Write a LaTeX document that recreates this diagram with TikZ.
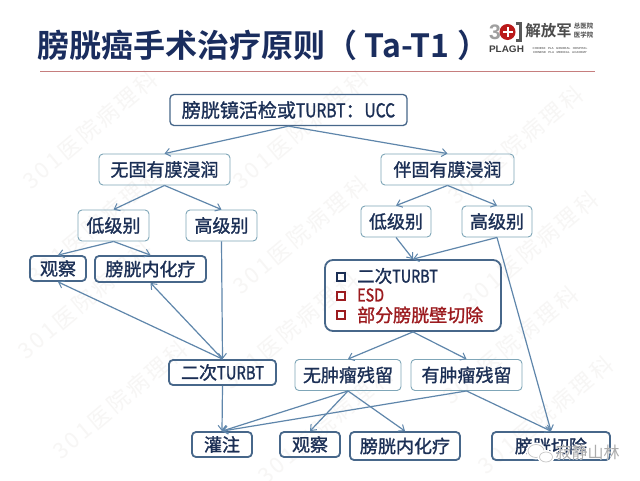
\documentclass[tikz,border=0pt]{standalone}
\usepackage{fontspec}
\usepackage{graphicx}
\usetikzlibrary{arrows.meta}
\setmainfont{Noto Sans CJK SC}[AutoFakeBold=1.3]
\newfontfamily\cjkb{Noto Sans CJK SC Bold}
\newfontfamily\wmfont[LetterSpace=14]{Noto Sans CJK SC}
\newfontfamily\latb{Liberation Sans Bold}
\definecolor{navy}{HTML}{1B2F55}
\definecolor{titlec}{HTML}{1A2D5E}
\definecolor{lnk}{HTML}{5F86AB}
\definecolor{lbord}{HTML}{7FA6B8}
\definecolor{dbord}{HTML}{47678A}
\definecolor{redt}{HTML}{9C1B1F}
\definecolor{wmc}{HTML}{F7F6F5}
\newcommand{\nr}[1]{\scalebox{0.82}[1]{#1}}
\tikzset{
  x=1pt,y=-1pt,
  bx/.style={rounded corners=4pt,inner sep=0pt,align=center,text=navy,font=\fontsize{18}{20}\selectfont\bfseries},
  lbox/.style={bx,draw=lbord,line width=0.9pt},
  dbox/.style={bx,draw=dbord,line width=1.8pt},
  lnkc/.style={draw=lnk,line width=1.2pt,-{Straight Barb[length=5pt,width=8pt,line width=1pt]}},
  wm/.style={text=wmc,rotate=40,font=\wmfont\fontsize{22}{24}\selectfont},
}
\begin{document}
\begin{tikzpicture}
\useasboundingbox (0,0) rectangle (640,480);
\fill[white] (0,0) rectangle (640,480);
% watermark
\foreach \wx/\wy in {85/300,120/400,90/130,95/225,300/130,300/235,290/330,325/425,515/145,530/250,510/345,545/415}{
  \node[wm] (w) at (\wx,\wy) {301医院病理科};
}
% title
\node[anchor=west,text=titlec,inner sep=0pt,font=\cjkb\fontsize{32}{34}\selectfont] (title) at (37,45) {膀胱癌手术治疗原则（ Ta-T1 ）};
\coordinate (la) at (40,71);
\coordinate (lb) at (595,71);
\draw[draw=black!10!red!45!gray!70,line width=1pt] (la) -- (lb);
% logo
\node[text=gray!75,font=\latb\fontsize{21}{21}\selectfont,inner sep=0pt] (l3) at (495,32) {3};
\fill[red!70!black!90] (507.5,32) circle (8);
\fill[white] (506.5,27) rectangle (508.5,37);
\fill[white] (502.5,31) rectangle (512.5,33);
\draw[gray!70!black,line width=3pt] (516,23.5) -- (520.5,23.5) -- (520.5,40.5) -- (516,40.5);
\node[text=black!70,font=\cjkb\fontsize{15.5}{16}\selectfont,inner sep=0pt] (l4) at (548.5,31) {解放军};
\node[text=black!70,font=\cjkb\fontsize{6.5}{7}\selectfont,inner sep=0pt] (l5) at (583.5,26) {总医院};
\node[text=black!70,font=\cjkb\fontsize{6.5}{7}\selectfont,inner sep=0pt] (l6) at (583.5,35) {医学院};
\node[text=black!75,font=\latb\fontsize{9.5}{10}\selectfont,inner sep=0pt] (l7) at (506.5,49) {\scalebox{1.05}[1]{PLAGH}};
\node[text=black!55,font=\latb\fontsize{2.9}{3}\selectfont,inner sep=0pt] (l8) at (560,48) {CHINESE\ \ \ PLA\ \ \ GENERAL\ \ \ HOSPITAL};
\node[text=black!55,font=\latb\fontsize{2.9}{3}\selectfont,inner sep=0pt] (l9) at (560,52.5) {CHINESE\ \ \ PLA\ \ \ MEDICAL\ \ \ ACADEMY};
% boxes
\node[dbox,line width=1.3pt,minimum width=237pt,minimum height=31pt,font=\fontsize{19}{20}\selectfont\bfseries] (root) at (288.5,110) {膀胱镜活检或\nr{TURBT}：\nr{UCC}};
\node[lbox,minimum width=131pt,minimum height=31pt] (n1) at (164.5,169.5) {无固有膜浸润};
\node[lbox,minimum width=133pt,minimum height=31pt] (n2) at (447.5,169.5) {伴固有膜浸润};
\node[lbox,minimum width=71pt,minimum height=31pt] (a1) at (113.5,225.5) {低级别};
\node[lbox,minimum width=71pt,minimum height=31pt] (a2) at (221.5,225.5) {高级别};
\node[lbox,minimum width=70pt,minimum height=31pt] (b1) at (396,221.5) {低级别};
\node[lbox,minimum width=70pt,minimum height=31pt] (b2) at (497,221.5) {高级别};
\node[dbox,minimum width=56pt,minimum height=25pt] (c1) at (58,268.5) {观察};
\node[dbox,minimum width=111pt,minimum height=26pt] (c2) at (150.5,269) {膀胱内化疗};
\node[dbox,minimum width=107pt,minimum height=25pt] (t2) at (222.5,372.5) {二次\nr{TURBT}};
\node[dbox,rounded corners=8pt,minimum width=176pt,minimum height=71pt] (big) at (413,295.5) {};
\node[lbox,minimum width=106pt,minimum height=31pt] (r1) at (348,375) {无肿瘤残留};
\node[lbox,minimum width=111pt,minimum height=31pt] (r2) at (466.5,375) {有肿瘤残留};
\node[dbox,minimum width=60pt,minimum height=25pt] (e1) at (222,444.5) {灌注};
\node[dbox,minimum width=60pt,minimum height=25pt] (e2) at (310,444.5) {观察};
\node[dbox,minimum width=110pt,minimum height=28pt] (e3) at (405,446) {膀胱内化疗};
\node[dbox,minimum width=118pt,minimum height=28pt] (e4) at (551,446) {膀胱切除};
% list inside big box
\foreach \yy/\cc/\nn in {277/navy/s1,296/redt/s2,315/redt/s3}{
  \node[draw=\cc,line width=1.8pt,minimum size=8pt,inner sep=0pt] (\nn) at (341,\yy) {};
}
\node[anchor=west,inner sep=0pt,text=navy,font=\fontsize{17.5}{20}\selectfont\bfseries] (i1) at (357,276) {二次\nr{TURBT}};
\node[anchor=west,inner sep=0pt,text=redt,font=\fontsize{17.5}{20}\selectfont\bfseries] (i2) at (357,295) {\nr{ESD}};
\node[anchor=west,inner sep=0pt,text=redt,font=\fontsize{18}{20}\selectfont\bfseries] (i3) at (357,315) {部分膀胱壁切除};
% connectors
\draw[lnkc] (root.south) -- (n1.north);
\draw[lnkc] (root.south) -- (n2.north);
\draw[lnkc] (n1.south) -- (a1.north);
\draw[lnkc] (n1.south) -- (a2.north);
\draw[lnkc] (a1.south) -- (c1.north);
\draw[lnkc] (a1.south) -- (c2.north);
\draw[lnkc] (a2.south) -- (t2.north);
\draw[lnkc] (t2.north) -- (c1.south);
\draw[lnkc] (t2.north) -- (c2.south);
\draw[lnkc] (n2.south) -- (b1.north);
\draw[lnkc] (n2.south) -- (b2.north);
\draw[lnkc] (b1.south) -- (big.north);
\draw[lnkc] (b2.south) -- (big.north);
\draw[lnkc] (b2.south) -- (e4.north);
\draw[lnkc] (big.south) -- (r1.north);
\draw[lnkc] (big.south) -- (r2.north);
\draw[lnkc] (t2.south) -- (e1.north);
\draw[lnkc] (r1.south) -- (e1.north);
\draw[lnkc] (r1.south) -- (e2.north);
\draw[lnkc] (r1.south) -- (e3.north);
\draw[lnkc] (r2.south) -- (e1.north);
\draw[lnkc] (r2.south) -- (e4.north);
% overlay mark
\fill[white] (536,451) ellipse [x radius=10,y radius=8.5];
\draw[gray!45,line width=0.7pt,fill=white] (536,451) ellipse [x radius=8,y radius=6.5];
\fill[white] (546,457) ellipse [x radius=8.5,y radius=7];
\draw[gray!45,line width=0.7pt,fill=white] (546,457) ellipse [x radius=6.5,y radius=5];
\node[anchor=west,inner sep=0pt,text=white,font=\fontsize{16}{18}\selectfont\bfseries] (ov0) at (555,452) {寂静山林};
\node[anchor=west,inner sep=0pt,text=gray!65,font=\fontsize{16}{18}\selectfont] (ov) at (555.5,452.5) {寂静山林};
\end{tikzpicture}
\end{document}
